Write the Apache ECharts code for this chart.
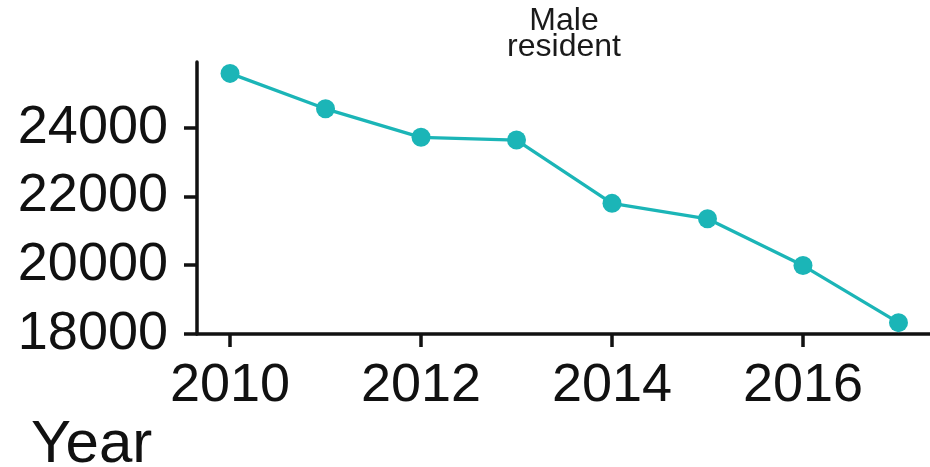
<!DOCTYPE html>
<html>
<head>
<meta charset="utf-8">
<script src="https://cdn.jsdelivr.net/npm/echarts@6/dist/echarts.min.js"></script>
<style>
  html, body { margin: 0; padding: 0; background: #fff; }
  #chart { width: 930px; height: 467px; }
</style>
</head>
<body>
<div id="chart"></div>
<script>
// Yearly counts, male residents
const years = [2010, 2011, 2012, 2013, 2014, 2015, 2016, 2017];
const maleResident = [25580, 24550, 23720, 23640, 21800, 21350, 19990, 18330];

// Tick positions shown on each axis
const xTicks = [2010, 2012, 2014, 2016];
const yTicks = [18000, 20000, 22000, 24000];

const FONT = 'Liberation Sans, Arial, Helvetica, sans-serif';
const TEAL = '#1bb5b7';
const INK = '#111';

const chart = echarts.init(document.getElementById('chart'), null, { renderer: 'canvas' });

chart.setOption({
  animation: false,
  backgroundColor: '#fff',
  title: [
    {
      text: 'Male\nresident',
      left: 559,
      top: 3,
      textAlign: 'center',
      textStyle: { fontFamily: FONT, fontSize: 32, fontWeight: 'normal', color: '#1a1a1a', lineHeight: 26 }
    },
    {
      text: 'Year',
      left: 26,
      top: 410,
      textStyle: { fontFamily: FONT, fontSize: 60, fontWeight: 'normal', color: INK }
    }
  ],
  grid: { left: 197, right: 0, top: 62, bottom: 133, containLabel: false },
  xAxis: {
    type: 'value',
    min: 2009.654,
    max: 2017.33,
    splitLine: { show: false },
    axisLine: { show: true, lineStyle: { color: INK, width: 3.5 } },
    axisTick: { show: true, length: 13, lineStyle: { color: INK, width: 3.5 }, customValues: xTicks },
    axisLabel: {
      customValues: xTicks,
      margin: 25,
      fontFamily: FONT, fontSize: 54, color: INK,
      formatter: v => String(v)
    }
  },
  yAxis: {
    type: 'value',
    min: 18000,
    max: 25911,
    splitLine: { show: false },
    axisLine: { show: true, lineStyle: { color: INK, width: 3.5 } },
    axisTick: { show: true, length: 13, lineStyle: { color: INK, width: 3.5 }, customValues: yTicks },
    axisLabel: {
      customValues: yTicks,
      margin: 29,
      fontFamily: FONT, fontSize: 54, color: INK,
      formatter: v => String(v)
    }
  },
  series: [
    {
      type: 'line',
      data: years.map((y, i) => [y, maleResident[i]]),
      symbol: 'circle',
      symbolSize: 19,
      showAllSymbol: true,
      itemStyle: { color: TEAL },
      lineStyle: { color: TEAL, width: 3.3 },
      clip: false
    }
  ]
});
</script>
</body>
</html>
